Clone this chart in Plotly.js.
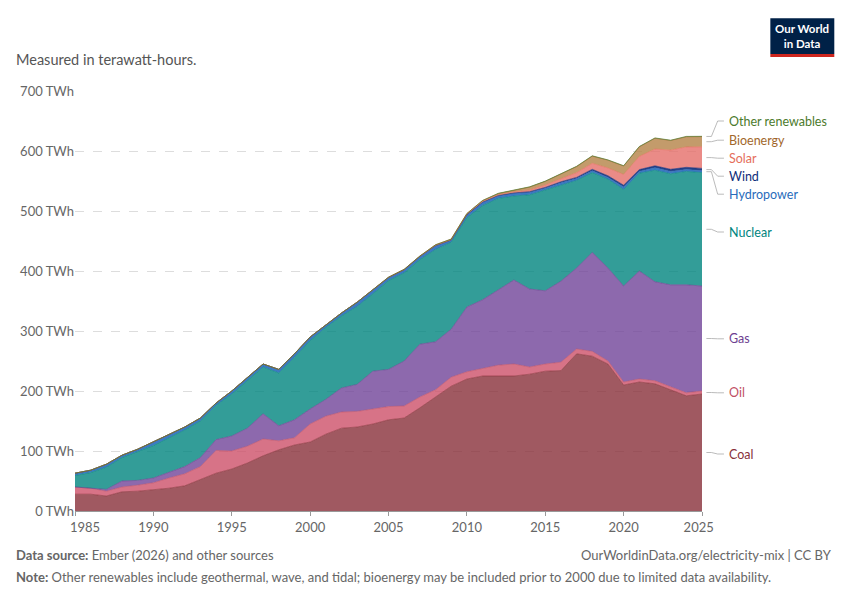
<!DOCTYPE html>
<html><head><meta charset="utf-8">
<script src="https://cdn.plot.ly/plotly-3.0.1.min.js"></script>
<style>body{margin:0;background:#fff}#chart{width:850px;height:600px}</style>
</head><body><div id="chart"></div>
<script>
const years = [];
for (let y = 1985; y <= 2025; y++) years.push(y);
const tickYears = [1985,1990,1995,2000,2005,2010,2015,2020,2025];
const tickText = ["&nbsp;&nbsp;&nbsp;&nbsp;&nbsp;&nbsp;1985","1990","1995","2000","2005","2010","2015","2020","2025&nbsp;&nbsp;"];
const coal = [28,28,25,32,33,35,38,42,52,63,70,80,92,102,110,115,128,138,140,145,152,155,172,190,208,220,225,225,225,228,233,234,262,258,245,210,215,212,202,192,195];
const oil = [12,10,8,8,10,12,17,20,22,38,30,28,28,15,12,30,30,27,26,25,22,20,18,12,15,12,12,18,20,12,12,14,8,8,5,5,5,5,5,5,5];
const gas = [0,0,3,10,8,8,10,12,15,18,25,30,42,25,30,25,28,40,45,63,62,75,88,80,80,108,115,125,140,130,122,135,135,165,155,160,180,165,170,180,175];
const nuclear = [19,26,37,39,48,54,57,61,61,57,70,79,78,88,104,114,120,120,130,129,148,147,141,154,145,149,157,153,140,157,168,161,146,133,148,161,163,186,185,189,189];
const hydro = [4,4,5,4,4,6,5,5,5,4,5,5,5,6,6,6,4,5,7,6,5,5,5,6,3,4,5,4,4,4,3,3,3,3,3,4,3,4,4,3,3];
const wind = [0,0,0,0,0,0,0,0,0,0,0,0,0,0,0,0,0,0,0,0.1,0.2,0.3,0.4,0.4,0.7,1,1,1,1.2,1.2,1.3,1.7,2,2.5,2.7,3,3,3.3,3.5,3.8,4];
const solar = [0,0,0,0,0,0,0,0,0,0,0,0,0,0,0,0,0,0,0,0,0,0,0,0.3,0.5,0.8,1,1,1.6,2.6,4,5,8,10,13,18,22,28,32,34,36];
const bio = [0,0,0,0,0,0,0,0,0,0,0,0,0,0,0,0,0,0,0,0,0.5,0.5,0.5,1,1,1,1.5,2,3,5,6,8,10,12,13,14,16,18,16,17,17];
const other = [0,0,0,0,0,0,0,0,0,0,0,0,0,0,0,0,0,0,0,0,0,0,0,0,0,0,0,0.5,0.5,0.5,0.5,0.5,0.5,0.5,0.5,0.5,0.5,0.5,0.5,0.5,0.5];

const series = [
  ["Coal", coal, "rgba(136,48,57,0.8)", "#883039", 95],
  ["Oil", oil, "rgba(205,80,105,0.8)", "#c15065", 197],
  ["Gas", gas, "rgba(113,67,152,0.8)", "#6d3e91", 287],
  ["Nuclear", nuclear, "rgba(0,133,126,0.8)", "#00847e", 465],
  ["Hydropower", hydro, "rgba(40,107,187,0.9)", "#286bbb", 528],
  ["Wind", wind, "rgba(15,46,122,0.9)", "#0f2e7a", 558],
  ["Solar", solar, "rgba(229,110,105,0.8)", "#e56e5a", 588],
  ["Bioenergy", bio, "rgba(180,130,70,0.8)", "#a2672b", 618],
  ["Other renewables", other, "rgba(90,130,60,0.8)", "#4c7a2c", 650]
];

const traces = series.map(s => ({
  x: years, y: s[1], name: s[0], type: "scatter", mode: "lines",
  stackgroup: "one", fillcolor: s[2], line: {width: 0.6, color: s[3]},
  hoverinfo: "skip"
}));

let cum = 0;
const shapes = [], annotations = [];
series.forEach(s => {
  const v = s[1][s[1].length - 1];
  const mid = cum + v / 2;
  cum += v;
  shapes.push({type: "path", xref: "paper", yref: "y",
    path: `M 1.007 ${mid} L 1.015 ${mid} L 1.025 ${s[4]} L 1.035 ${s[4]}`,
    line: {color: "#aaa", width: 0.8}});
  annotations.push({xref: "paper", yref: "y", x: 1.04, y: s[4], xanchor: "left",
    text: s[0], showarrow: false, font: {size: 12.5, color: s[3]}});
});

shapes.push(
  {type: "rect", xref: "paper", yref: "paper", x0: 1.109, x1: 1.211, y0: 1.088, y1: 1.173, fillcolor: "#002147", line: {width: 0}},
  {type: "rect", xref: "paper", yref: "paper", x0: 1.109, x1: 1.211, y0: 1.081, y1: 1.088, fillcolor: "#ce261e", line: {width: 0}}
);
annotations.push(
  {xref: "paper", yref: "paper", x: -0.097, y: 1.1, xanchor: "left", showarrow: false,
   text: "Measured in terawatt-hours.", font: {size: 14.5, color: "#555"}},
  {xref: "paper", yref: "paper", x: -0.097, y: -0.128, xanchor: "left", showarrow: false,
   text: "<b>Data source:</b> Ember (2026) and other sources", font: {size: 13, color: "#666"}},
  {xref: "paper", yref: "paper", x: 1.21, y: -0.128, xanchor: "right", showarrow: false,
   text: "OurWorldinData.org/electricity-mix | CC BY", font: {size: 13, color: "#666"}},
  {xref: "paper", yref: "paper", x: -0.097, y: -0.181, xanchor: "left", showarrow: false,
   text: "<b>Note:</b> Other renewables include geothermal, wave, and tidal; bioenergy may be included prior to 2000 due to limited data availability.", font: {size: 13, color: "#666"}},
  {xref: "paper", yref: "paper", x: 1.16, y: 1.131, xanchor: "center", yanchor: "middle", showarrow: false,
   text: "<b>Our World<br>in Data</b>", font: {size: 11.5, color: "#fff"}}
);

Plotly.newPlot("chart", traces, {
  width: 850, height: 600,
  margin: {l: 75, r: 148, t: 91, b: 89},
  paper_bgcolor: "#fff", plot_bgcolor: "#fff",
  font: {family: "Lato, sans-serif", color: "#666", size: 13},
  showlegend: false,
  xaxis: {range: [1985, 2025], tickvals: tickYears, ticktext: tickText,
    showgrid: false, zeroline: false, ticks: "outside", ticklen: 4, tickcolor: "#999",
    showline: true, linecolor: "#999", tickfont: {size: 13, color: "#666"}},
  yaxis: {range: [0, 700], dtick: 100, ticksuffix: " TWh", showgrid: true,
    gridcolor: "#ddd", griddash: "dash", zeroline: false, tickfont: {size: 13, color: "#666"}},
  shapes: shapes, annotations: annotations
}, {displayModeBar: false});
</script></body></html>
